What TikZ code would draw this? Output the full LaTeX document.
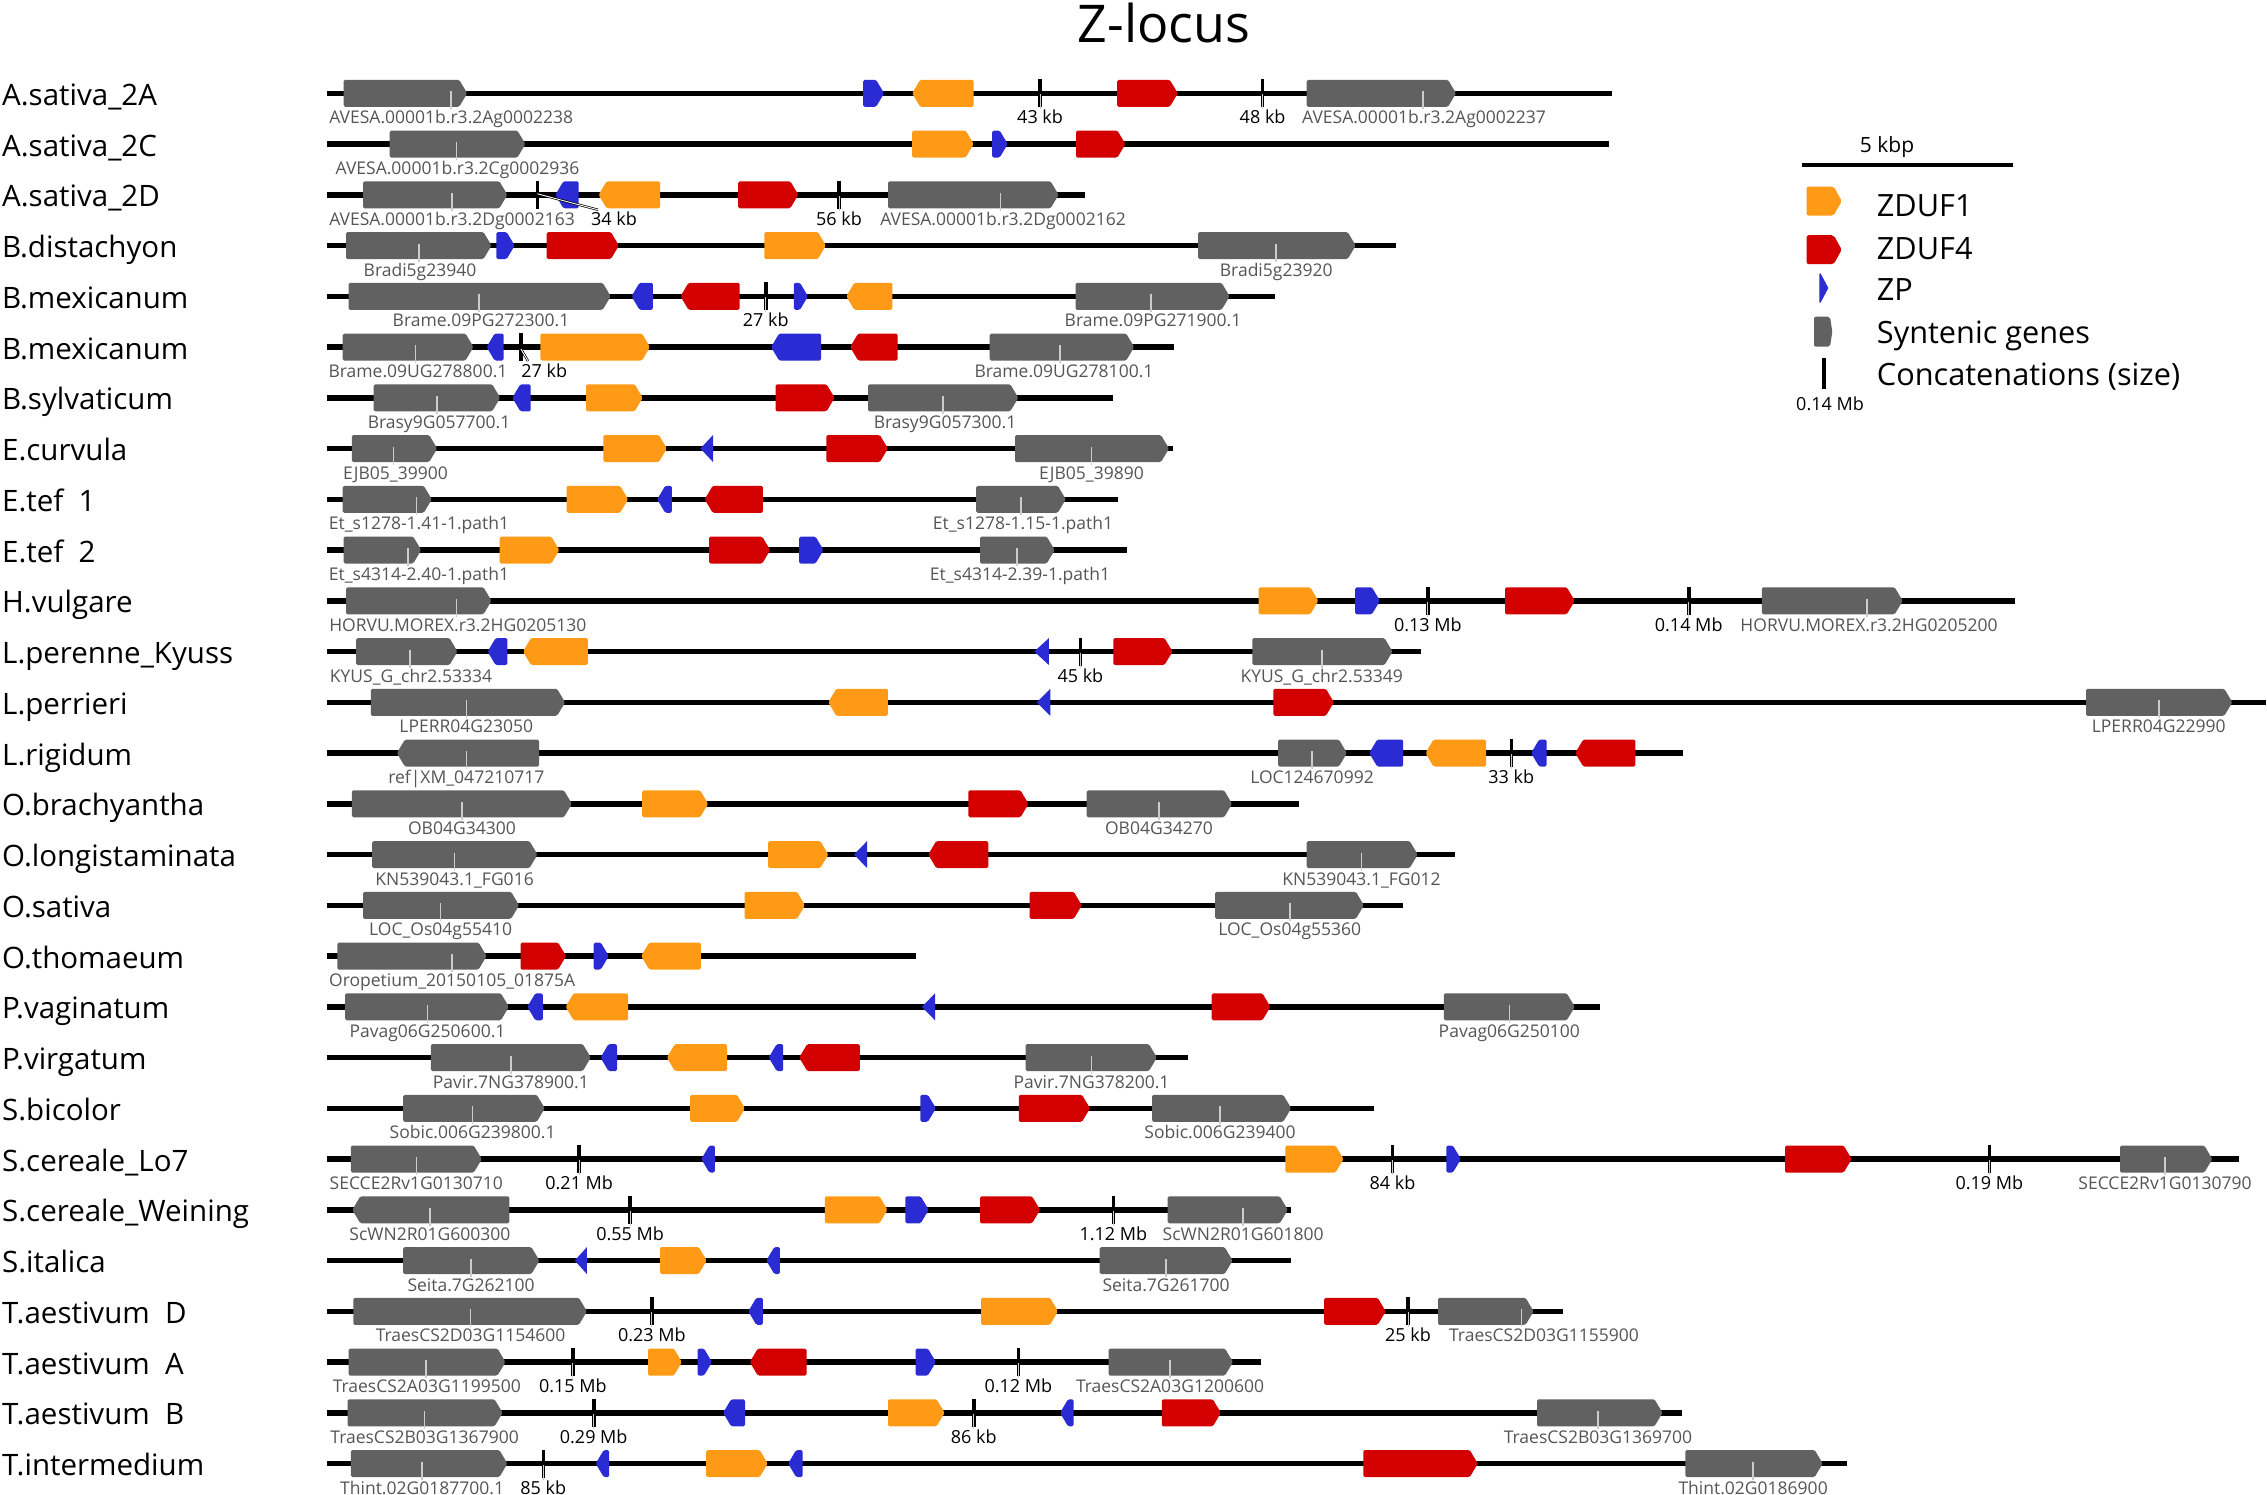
\documentclass[tikz,border=0pt]{standalone}
\usepackage{fontspec}
\setmainfont{Open Sans}
\definecolor{cOr}{HTML}{FF9A16}
\definecolor{cRd}{HTML}{D20000}
\definecolor{cBl}{HTML}{2B2BD4}
\definecolor{cGy}{HTML}{616161}
\definecolor{cTx}{HTML}{555555}
\newcounter{zn}
\tikzset{
  glabst/.style={anchor=base,inner sep=0pt,text=cTx,font=\fontsize{17.5}{20}\selectfont},
  clabst/.style={anchor=base,inner sep=0pt,text=black,font=\fontsize{18}{20}\selectfont},
  rowst/.style={anchor=base west,inner sep=0pt,font=\fontsize{29.5}{32}\selectfont},
  legst/.style={anchor=base west,inner sep=0pt,font=\fontsize{30.7}{34}\selectfont},
  pointer/.style={draw=gray!40,line width=1.6pt},
  leader/.style={draw=black,line width=0.7pt,double=white,double distance=0.9pt}
}
% right-pointing element
\newcommand{\zR}[3]{\fill[#1,rounded corners=1.5pt] (#2,\Y-13.5) -- (#3-8,\Y-13.5) -- (#3,\Y) -- (#3-8,\Y+13.5) -- (#2,\Y+13.5) -- cycle;}
% left-pointing element
\newcommand{\zL}[3]{\fill[#1,rounded corners=1.5pt] (#3,\Y-13.5) -- (#2+8,\Y-13.5) -- (#2,\Y) -- (#2+8,\Y+13.5) -- (#3,\Y+13.5) -- cycle;}
% left-pointing triangle
\newcommand{\zT}[3]{\fill[#1] (#2,\Y) -- (#3,\Y-13.5) -- (#3,\Y+13.5) -- cycle;}
% gene label with pointer
\newcommand{\zlab}[3]{\stepcounter{zn}\node[glabst] (g\thezn) at (#2,\Y+30.5) {#3};\draw[pointer] (#1,\Y-2) -- (#1,\Y+16);}
% concatenation tick with label
\newcommand{\zct}[2]{\stepcounter{zn}\fill (#1-1.8,\Y-14) rectangle (#1+1.8,\Y+14);\draw[draw=gray!40,line width=1pt] (#1,\Y+1) -- (#1,\Y+16);\node[clabst] (c\thezn) at (#1,\Y+30.5) {#2};}
% tick only
\newcommand{\zbar}[1]{\fill (#1-1.8,\Y-14) rectangle (#1+1.8,\Y+14);}
% row label and line
\newcommand{\zrow}[3]{\stepcounter{zn}\node[rowst] (r\thezn) at (2,\Y+12) {#1};\draw[line width=5.5pt] (#2,\Y) -- (#3,\Y);}
\begin{document}
\begin{tikzpicture}[x=1pt,y=-1pt]
\useasboundingbox (0,0) rectangle (2267,1494);
\fill[white] (0,0) rectangle (2267,1494);
\node[anchor=base,inner sep=0pt,font=\fontsize{52}{58}\selectfont] (title) at (1164,42) {Z-locus};

% Row 0
\def\Y{93.3}
\zrow{A.sativa\_2A}{326.7}{1611.6}
\zR{cGy}{343.6}{467.2}\zlab{451.2}{451.2}{AVESA.00001b.r3.2Ag0002238}
\zR{cBl}{863.2}{884.1}
\zL{cOr}{912.2}{973.7}
\zct{1040.1}{43 kb}
\zR{cRd}{1117.2}{1177.8}
\zct{1262.6}{48 kb}
\zR{cGy}{1306.7}{1456}\zlab{1423}{1424}{AVESA.00001b.r3.2Ag0002237}

% Row 1
\def\Y{144.05}
\zrow{A.sativa\_2C}{326.7}{1609.2}
\zR{cGy}{389.7}{525.4}\zlab{456.6}{457.5}{AVESA.00001b.r3.2Cg0002936}
\zR{cOr}{912.2}{973.7}
\zR{cBl}{992.2}{1007.7}
\zR{cRd}{1076}{1125.4}

% Row 2
\def\Y{194.8}
\zrow{A.sativa\_2D}{326.7}{1085.2}
\zR{cGy}{363}{507.4}\zlab{451.7}{452}{AVESA.00001b.r3.2Dg0002163}
\zbar{537.5}
\zL{cBl}{555.4}{578.7}
\zL{cOr}{598.6}{660.1}
\zR{cRd}{738.2}{798.3}
\zct{839}{56 kb}
\zR{cGy}{888}{1058.6}\zlab{1000.4}{1003}{AVESA.00001b.r3.2Dg0002162}
\coordinate (k34) at (537.5,\Y-1);
\node[clabst] (l34) at (614,\Y+30.5) {34 kb};
\draw[leader] (k34) -- (598,\Y+15);

% Row 3
\def\Y{245.55}
\zrow{B.distachyon}{326.7}{1395.9}
\zR{cGy}{346}{491.5}\zlab{418.8}{420}{Bradi5g23940}
\zR{cBl}{496.3}{514.7}
\zR{cRd}{546.7}{618.9}
\zR{cOr}{764.3}{825.9}
\zR{cGy}{1198.1}{1355.7}\zlab{1276.2}{1276.2}{Bradi5g23920}

% Row 4
\def\Y{296.3}
\zrow{B.mexicanum}{326.7}{1274.7}
\zR{cGy}{348.5}{610.7}\zlab{478.9}{481}{Brame.09PG272300.1}
\zL{cBl}{631.5}{652.9}
\zL{cRd}{680.5}{739.6}
\zct{765.8}{27 kb}
\zR{cBl}{793.9}{808}
\zL{cOr}{846.3}{892.3}
\zR{cGy}{1075.5}{1229.6}\zlab{1151.1}{1153}{Brame.09PG271900.1}

% Row 5
\def\Y{347.05}
\zrow{B.mexicanum}{326.7}{1174.4}
\zR{cGy}{342.7}{473.5}\zlab{415.4}{418}{Brame.09UG278800.1}
\zL{cBl}{486.6}{503.6}
\zbar{521}
\zR{cOr}{540.4}{650}
\zL{cBl}{771.1}{821.1}
\zL{cRd}{850.1}{897.6}
\zR{cGy}{989.7}{1134.2}\zlab{1060}{1064}{Brame.09UG278100.1}
\coordinate (k27) at (521,\Y+2);
\node[clabst] (l27) at (544.3,\Y+30.5) {27 kb};
\draw[leader] (k27) -- (528,\Y+14);

% Row 6
\def\Y{397.8}
\zrow{B.sylvaticum}{326.7}{1113.3}
\zR{cGy}{373.7}{500.2}\zlab{437.2}{439}{Brasy9G057700.1}
\zL{cBl}{512.3}{530.7}
\zR{cOr}{586}{642.7}
\zR{cRd}{775.5}{834.6}
\zR{cGy}{868}{1018.3}\zlab{943.2}{945}{Brasy9G057300.1}

% Row 7
\def\Y{448.55}
\zrow{E.curvula}{326.7}{1172.5}
\zR{cGy}{351.9}{437.2}\zlab{393.5}{395.5}{EJB05\_39900}
\zR{cOr}{603.4}{666.9}
\zT{cBl}{700.4}{713}
\zR{cRd}{826.4}{887.9}
\zR{cGy}{1015}{1169}\zlab{1091.5}{1091.5}{EJB05\_39890}

% Row 8
\def\Y{499.3}
\zrow{E.tef\ \ 1}{326.7}{1118.2}
\zR{cGy}{342.7}{431.8}\zlab{416.3}{419}{Et\_s1278-1.41-1.path1}
\zR{cOr}{566.6}{628.1}
\zL{cBl}{657.2}{671.8}
\zL{cRd}{704.7}{762.9}
\zR{cGy}{976.2}{1065.8}\zlab{1020.8}{1023}{Et\_s1278-1.15-1.path1}

% Row 9
\def\Y{550.05}
\zrow{E.tef\ \ 2}{326.7}{1126.9}
\zR{cGy}{343.6}{421.2}\zlab{408.1}{419}{Et\_s4314-2.40-1.path1}
\zR{cOr}{499.7}{559.3}
\zR{cRd}{709.1}{770.2}
\zR{cBl}{799.2}{823.5}
\zR{cGy}{980}{1054.7}\zlab{1016.9}{1020}{Et\_s4314-2.39-1.path1}

% Row 10
\def\Y{600.8}
\zrow{H.vulgare}{326.7}{2015}
\zR{cGy}{346}{491.5}\zlab{456.6}{457.8}{HORVU.MOREX.r3.2HG0205130}
\zR{cOr}{1258.7}{1318.3}
\zR{cBl}{1355.2}{1379.9}
\zct{1427.9}{0.13 Mb}
\zR{cRd}{1505}{1574.8}
\zct{1688.7}{0.14 Mb}
\zR{cGy}{1761.8}{1902.7}\zlab{1866.7}{1869}{HORVU.MOREX.r3.2HG0205200}

% Row 11
\def\Y{651.55}
\zrow{L.perenne\_Kyuss}{326.7}{1421.1}
\zR{cGy}{356.2}{457.5}\zlab{410}{411}{KYUS\_G\_chr2.53334}
\zL{cBl}{487.6}{507.4}
\zL{cOr}{523}{587.9}
\zT{cBl}{1034.3}{1048.9}
\zct{1080.4}{45 kb}
\zR{cRd}{1113.3}{1172.5}
\zR{cGy}{1252.4}{1392.5}\zlab{1321.7}{1321.7}{KYUS\_G\_chr2.53349}

% Row 12
\def\Y{702.3}
\zrow{L.perrieri}{326.7}{2266}
\zR{cGy}{370.8}{565.1}\zlab{466.3}{466.3}{LPERR04G23050}
\zL{cOr}{828.3}{887.9}
\zT{cBl}{1036.7}{1050.3}
\zR{cRd}{1273.3}{1333.9}
\zR{cGy}{2086}{2232.3}\zlab{2158.7}{2158.7}{LPERR04G22990}

% Row 13
\def\Y{753.05}
\zrow{L.rigidum}{326.7}{1682.8}
\zL{cGy}{396.9}{539}\zlab{466.3}{466.3}{ref|XM\_047210717}
\zR{cGy}{1278.1}{1346.9}\zlab{1312}{1312}{LOC124670992}
\zL{cBl}{1369.2}{1403.2}
\zL{cOr}{1425.5}{1486}
\zct{1511.3}{33 kb}
\zL{cBl}{1531.1}{1546.6}
\zL{cRd}{1575.2}{1635.3}

% Row 14
\def\Y{803.8}
\zrow{O.brachyantha}{326.7}{1299.4}
\zR{cGy}{351.9}{571.9}\zlab{461.9}{461.9}{OB04G34300}
\zR{cOr}{642.2}{708.1}
\zR{cRd}{968.4}{1028.5}
\zR{cGy}{1086.7}{1232.1}\zlab{1158.9}{1158.9}{OB04G34270}

% Row 15
\def\Y{854.55}
\zrow{O.longistaminata}{326.7}{1454.5}
\zR{cGy}{372.2}{537.5}\zlab{454.6}{454.6}{KN539043.1\_FG016}
\zR{cOr}{768.2}{828.3}
\zT{cBl}{854}{867.1}
\zL{cRd}{928.2}{988.3}
\zR{cGy}{1306.7}{1417.7}\zlab{1361.5}{1361.5}{KN539043.1\_FG012}

% Row 16
\def\Y{905.3}
\zrow{O.sativa}{326.7}{1402.7}
\zR{cGy}{363}{519.1}\zlab{440.6}{440.6}{LOC\_Os04g55410}
\zR{cOr}{744.5}{805}
\zR{cRd}{1029.5}{1081.8}
\zR{cGy}{1215.1}{1363.9}\zlab{1289.7}{1289.7}{LOC\_Os04g55360}

% Row 17
\def\Y{956.05}
\zrow{O.thomaeum}{326.7}{915.6}
\zR{cGy}{337.3}{486.6}\zlab{452.2}{452.2}{Oropetium\_20150105\_01875A}
\zR{cRd}{520.5}{566.1}
\zR{cBl}{593.7}{608.8}
\zL{cOr}{641.2}{700.9}

% Row 18
\def\Y{1006.8}
\zrow{P.vaginatum}{326.7}{1600}
\zR{cGy}{345.1}{508.9}\zlab{427.5}{427.5}{Pavag06G250600.1}
\zL{cBl}{527.3}{542.8}
\zL{cOr}{565.6}{628.1}
\zT{cBl}{921.9}{935}
\zR{cRd}{1211.7}{1270.4}
\zR{cGy}{1443.9}{1574.8}\zlab{1509.3}{1509.3}{Pavag06G250100}

% Row 19
\def\Y{1057.55}
\zrow{P.virgatum}{326.7}{1188}
\zR{cGy}{430.9}{590.8}\zlab{510.8}{510.8}{Pavir.7NG378900.1}
\zL{cBl}{600.5}{617}
\zL{cOr}{666.9}{727}
\zL{cBl}{768.7}{783.2}
\zL{cRd}{799.2}{859.8}
\zR{cGy}{1025.6}{1156.9}\zlab{1091.5}{1091.5}{Pavir.7NG378200.1}

% Row 20
\def\Y{1108.3}
\zrow{S.bicolor}{326.7}{1374.1}
\zR{cGy}{403.2}{544.8}\zlab{472.6}{472.6}{Sobic.006G239800.1}
\zR{cOr}{690.2}{745}
\zR{cBl}{920.4}{935.9}
\zR{cRd}{1018.8}{1090}
\zR{cGy}{1152.1}{1291.2}\zlab{1220}{1220}{Sobic.006G239400}

% Row 21
\def\Y{1159.05}
\zrow{S.cereale\_Lo7}{326.7}{2239}
\zR{cGy}{350.9}{481.8}\zlab{416.3}{416.3}{SECCE2Rv1G0130710}
\zct{579.2}{0.21 Mb}
\zL{cBl}{701.3}{714.9}
\zR{cOr}{1285.4}{1343.5}
\zct{1392.5}{84 kb}
\zR{cBl}{1446.3}{1460.9}
\zR{cRd}{1785}{1851.7}
\zct{1989.3}{0.19 Mb}
\zR{cGy}{2120}{2212.3}\zlab{2165}{2165}{SECCE2Rv1G0130790}

% Row 22
\def\Y{1209.8}
\zrow{S.cereale\_Weining}{326.7}{1291.2}
\zL{cGy}{352.3}{509.4}\zlab{429.9}{429.9}{ScWN2R01G600300}
\zct{630.1}{0.55 Mb}
\zR{cOr}{824.9}{887.5}
\zR{cBl}{905.4}{928.7}
\zR{cRd}{980}{1040.1}
\zct{1113.3}{1.12 Mb}
\zR{cGy}{1167.6}{1287.8}\zlab{1243.2}{1243.2}{ScWN2R01G601800}

% Row 23
\def\Y{1260.55}
\zrow{S.italica}{326.7}{1291.2}
\zR{cGy}{403.2}{539.4}\zlab{471.1}{471.1}{Seita.7G262100}
\zT{cBl}{574.8}{586.9}
\zR{cOr}{660.1}{706.7}
\zL{cBl}{766.3}{779.9}
\zR{cGy}{1099.7}{1232.6}\zlab{1166.1}{1166.1}{Seita.7G261700}

% Row 24
\def\Y{1311.3}
\zrow{T.aestivum\ \ D}{326.7}{1563.1}
\zR{cGy}{353.3}{586.9}\zlab{470.6}{470.6}{TraesCS2D03G1154600}
\zct{651.9}{0.23 Mb}
\zL{cBl}{748.3}{762.9}
\zR{cOr}{981}{1058}
\zR{cRd}{1324.2}{1385.7}
\zct{1408}{25 kb}
\zR{cGy}{1438}{1533.6}\zlab{1521.4}{1544}{TraesCS2D03G1155900}

% Row 25
\def\Y{1362.05}
\zrow{T.aestivum\ \ A}{326.7}{1261}
\zR{cGy}{348.5}{505.5}\zlab{426}{426.8}{TraesCS2A03G1199500}
\zct{572.9}{0.15 Mb}
\zR{cOr}{648}{681.9}
\zR{cBl}{697.5}{712}
\zL{cRd}{749.8}{806.5}
\zR{cBl}{915.6}{935.9}
\zct{1018.3}{0.12 Mb}
\zR{cGy}{1108.5}{1233}\zlab{1170}{1170}{TraesCS2A03G1200600}

% Row 26
\def\Y{1412.8}
\zrow{T.aestivum\ \ B}{326.7}{1681.9}
\zR{cGy}{347.5}{502.6}\zlab{424.6}{424.6}{TraesCS2B03G1367900}
\zct{593.7}{0.29 Mb}
\zL{cBl}{723.1}{745}
\zR{cOr}{888}{944.6}
\zct{973.7}{86 kb}
\zL{cBl}{1060}{1073.6}
\zR{cRd}{1161.8}{1220.9}
\zR{cGy}{1537}{1662.5}\zlab{1598}{1598}{TraesCS2B03G1369700}

% Row 27
\def\Y{1463.55}
\zrow{T.intermedium}{326.7}{1846.7}
\zR{cGy}{350.9}{507.4}\zlab{422.1}{422.1}{Thint.02G0187700.1}
\zct{543.3}{85 kb}
\zL{cBl}{595.7}{609.2}
\zR{cOr}{706.2}{767.7}
\zL{cBl}{788.1}{802.6}
\zR{cRd}{1363.4}{1477.8}
\zR{cGy}{1685.3}{1822.7}\zlab{1753.1}{1753.1}{Thint.02G0186900}

% Legend
\node[anchor=base,inner sep=0pt,font=\fontsize{21}{24}\selectfont] (sbl) at (1887,152.5) {5 kbp};
\draw[line width=3.5pt] (1801.7,165) coordinate (sb1) -- (2013.3,165) coordinate (sb2);
\def\Y{201}
\fill[cOr,rounded corners=2pt] (1806.7,\Y-14.5) -- (1833.7,\Y-14.5) -- (1841.7,\Y) -- (1833.7,\Y+14.5) -- (1806.7,\Y+14.5) -- cycle;
\node[legst] (lz1) at (1876.7,\Y+15.7) {ZDUF1};
\def\Y{249.7}
\fill[cRd,rounded corners=2pt] (1806.7,\Y-14.5) -- (1833.7,\Y-14.5) -- (1841.7,\Y) -- (1833.7,\Y+14.5) -- (1806.7,\Y+14.5) -- cycle;
\node[legst] (lz4) at (1876.7,\Y+9.3) {ZDUF4};
\def\Y{288}
\fill[cBl] (1819.3,\Y-14.5) -- (1820.6,\Y-14.5) -- (1828.3,\Y) -- (1820.6,\Y+14.5) -- (1819.3,\Y+14.5) -- cycle;
\node[legst] (lzp) at (1876.7,\Y+12.7) {ZP};
\def\Y{331.7}
\fill[cGy,rounded corners=2pt] (1814,\Y-15) -- (1830,\Y-15) -- (1832.3,\Y) -- (1830,\Y+15) -- (1814,\Y+15) -- cycle;
\node[legst] (lsy) at (1876.7,\Y+11.6) {Syntenic genes};
\def\Y{373.7}
\fill (1822.3,\Y-15.5) rectangle (1826.3,\Y+15.5);
\node[legst] (lco) at (1876.7,\Y+11.3) {Concatenations (size)};
\node[clabst] (lmb) at (1830,\Y+37) {0.14 Mb};
\end{tikzpicture}
\end{document}
